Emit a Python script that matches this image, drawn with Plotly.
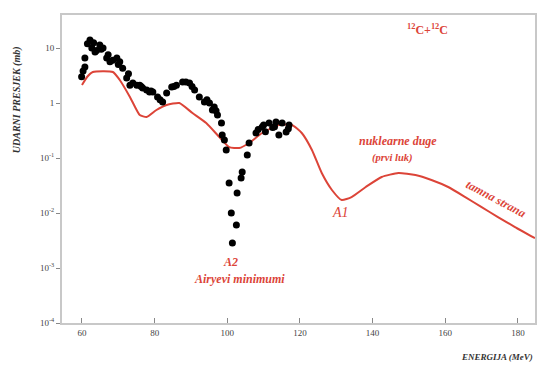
import plotly.graph_objects as go

# Red theoretical curve (energy MeV, cross-section mb)
curve_E = [60.0, 61.4, 63.0, 68.5, 70.4, 73.2, 75.9, 77.8, 80.5, 83.3, 86.8, 90.4, 94.2, 97.8,
           100.5, 103.3, 106.0, 109.6, 114.2, 117.8, 120.5, 123.3, 126.0, 128.8, 131.5, 134.2,
           138.1, 142.5, 147.1, 151.8, 156.2, 160.8, 165.5, 169.9, 174.5, 179.2, 184.7]
curve_S = [2.12, 2.97, 3.66, 3.66, 2.62, 1.29, 0.605, 0.556, 0.746, 0.92, 1.0, 0.658, 0.433, 0.241,
           0.158, 0.152, 0.1875, 0.285, 0.398, 0.398, 0.285, 0.14, 0.0533, 0.0262, 0.0172, 0.0195,
           0.0297, 0.0452, 0.0533, 0.0491, 0.0398, 0.0297, 0.0195, 0.0129, 0.00845, 0.00556, 0.0035]

# Black experimental points
data_E = [59.9, 60.8, 60.8, 62.2, 62.7, 63.6, 64.9, 65.8, 66.8, 67.7, 69.6, 70.4, 71.2, 72.3, 73.2,
          75.1, 75.9, 76.7, 77.8, 78.6, 79.5, 80.8, 82.2, 83.3, 84.7, 86.0, 87.7, 89.6, 91.0, 92.3,
          93.7, 95.1, 95.9, 96.4, 97.3, 98.4, 98.6, 99.2, 99.7, 100.5, 101.1, 101.4, 102.5, 102.7,
          103.8, 104.1, 105.5, 106.0, 107.9, 109.6, 111.5, 113.4, 114.2, 115.1, 116.2, 117.0,
          61.5, 64.0, 68.5, 74.0, 81.5, 85.3, 88.6, 108.5, 110.5, 112.5,
          60.3, 63.2, 65.3, 67.2, 70.0, 72.8, 76.3, 79.0, 90.3, 94.4, 96.9, 110.0, 113.0, 116.8]
data_S = [3.0, 4.5, 6.6, 14.0, 10.0, 8.5, 11.3, 10.0, 6.6, 5.6, 6.6, 5.6, 4.3, 2.85, 2.1,
          2.1, 2.1, 1.87, 1.72, 1.58, 1.58, 1.28, 1.04, 1.52, 1.95, 2.1, 2.41, 2.31, 1.72, 1.28,
          1.04, 1.0, 0.746, 0.846, 0.605, 0.433, 0.262, 0.212, 0.14, 0.0351, 0.01, 0.00285, 0.00605,
          0.0231, 0.0433, 0.0556, 0.1135, 0.1875, 0.285, 0.366, 0.433, 0.452, 0.262, 0.433, 0.297, 0.398,
          12.0, 9.0, 6.0, 2.3, 1.15, 2.0, 2.4, 0.33, 0.30, 0.36,
          3.8, 12.5, 9.5, 7.5, 5.0, 3.4, 2.0, 1.65, 2.0, 1.15, 0.72, 0.40, 0.37, 0.34]

x_ticks = [60, 80, 100, 120, 140, 160, 180]
x_labels = ["60", "80", "100", "120", "140", "160", "180"]
y_ticks = [10, 1, 0.1, 0.01, 0.001, 0.0001]
y_labels = ["10", "1", "10<sup>-1</sup>", "10<sup>-2</sup>", "10<sup>-3</sup>", "10<sup>-4</sup>"]

RED = "#dc4438"
SERIF = "Liberation Serif"

fig = go.Figure()
fig.add_trace(go.Scatter(x=curve_E, y=curve_S, mode="lines",
                         line=dict(color=RED, width=2, shape="spline", smoothing=0.5),
                         showlegend=False))
fig.add_trace(go.Scatter(x=data_E, y=data_S, mode="markers",
                         marker=dict(color="black", size=7), showlegend=False))

fig.update_layout(
    width=539, height=367,
    margin=dict(l=62, r=2, t=15, b=44),
    paper_bgcolor="white", plot_bgcolor="white",
    font=dict(family=SERIF, color="#333", size=10),
    xaxis=dict(range=[54.5, 184.7], tickvals=x_ticks, ticktext=x_labels,
               ticks="inside", ticklen=5, tickcolor="#888", showgrid=False, zeroline=False,
               showline=True, linecolor="#c8c8c8", linewidth=2, mirror=True,
               tickfont=dict(size=9, family=SERIF, color="#444")),
    yaxis=dict(type="log", range=[-4, 1.6], tickvals=y_ticks, ticktext=y_labels,
               ticks="outside", ticklen=4, tickcolor="#888", showgrid=False, zeroline=False,
               showline=True, linecolor="#c8c8c8", linewidth=2, mirror=True,
               tickfont=dict(size=9, family=SERIF, color="#444")),
)


def label(px, py, text, size, color=RED, angle=0, xanchor="center"):
    fig.add_annotation(xref="paper", yref="paper", x=(px - 62) / 475, y=(323 - py) / 308,
                       xanchor=xanchor, yanchor="middle", text=text, showarrow=False,
                       textangle=angle, font=dict(size=size, family=SERIF, color=color))


label(429, 30, "<b><sup>12</sup>C+<sup>12</sup>C</b>", 12)
label(399, 141, "<b><i>nuklearne duge</i></b>", 12)
label(394, 158, "<b><i>(prvi luk)</i></b>", 10.5)
label(498, 199, "<b><i>tamna strana</i></b>", 12, angle=28)
label(342, 212, "<i>A1</i>", 14)
label(231, 262, "<b><i>A2</i></b>", 12)
label(240, 279, "<b><i>Airyevi minimumi</i></b>", 12)
label(537, 357, "<b><i>ENERGIJA (MeV)</i></b>", 9, color="#333", xanchor="right")
label(17, 100, "<b><i>UDARNI PRESJEK (mb)</i></b>", 10, color="#333", angle=-90)

fig.write_html("out.html", config={"displayModeBar": False},
               post_script="document.body.style.margin='0';document.body.style.padding='0';")
